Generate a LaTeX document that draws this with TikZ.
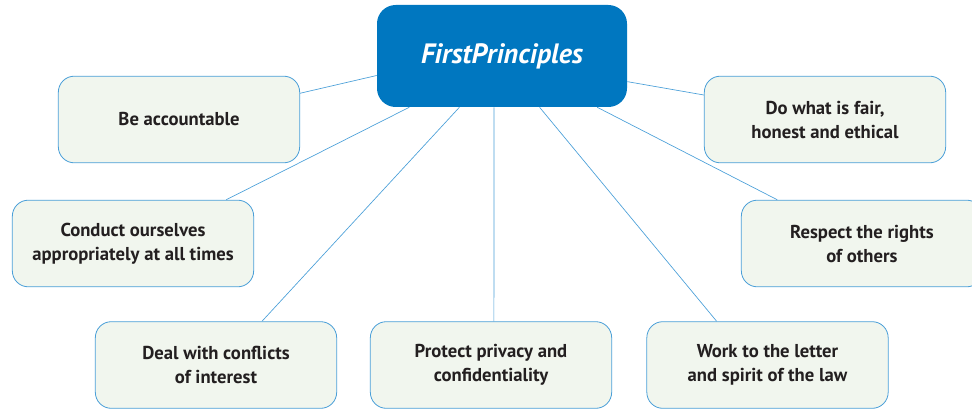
\documentclass[tikz,border=0pt]{standalone}
\usepackage{fontspec}
\setmainfont{PT Sans}
\usetikzlibrary{calc}
\definecolor{hubblue}{HTML}{0077C0}
\definecolor{edgeblue}{HTML}{4A9FD8}
\definecolor{boxfill}{HTML}{F1F6EE}
\definecolor{txt}{HTML}{231F20}
\begin{document}
\begin{tikzpicture}[x=0.75pt,y=-0.75pt,
  leaf/.style={draw=edgeblue, line width=0.6pt, fill=boxfill, rounded corners=12pt,
    minimum width=181pt, minimum height=65pt, align=center, text=txt,
    font=\fontsize{14}{18}\selectfont\bfseries, inner sep=0pt},
  hub/.style={fill=hubblue, rounded corners=14pt, minimum width=187.5pt, minimum height=76.5pt,
    text=white, font=\fontsize{21}{24}\selectfont\bfseries\itshape, inner sep=0pt},
  link/.style={draw=edgeblue, line width=0.5pt}]
\useasboundingbox (0,0) rectangle (972,410);
\node[hub] (c) at (502,56) {FirstPrinciples};
\node[leaf] (acc) at (179,119.5) {Be accountable};
\node[leaf] (cond) at (133,243.5) {Conduct ourselves\\appropriately at all times};
\node[leaf] (deal) at (216,365) {Deal with conflicts\\of interest};
\node[leaf] (priv) at (491,365) {Protect privacy and\\confidentiality};
\node[leaf] (work) at (767.5,365) {Work to the letter\\and spirit of the law};
\node[leaf] (resp) at (862,243.5) {Respect the rights\\of others};
\node[leaf] (fair) at (825,119.5) {Do what is fair,\\honest and ethical};
\draw[link] ($(acc.north east)!0.2!(acc.south east)$) -- ($(c.north west)!0.69!(c.south west)$);
\draw[link] ($(cond.north west)!0.885!(cond.north east)$) -- ($(c.south west)!0.13!(c.south east)$);
\draw[link] ($(deal.north west)!0.69!(deal.north east)$) -- ($(c.south west)!0.33!(c.south east)$);
\draw[link] ($(priv.north west)!0.512!(priv.north east)$) -- ($(c.south west)!0.468!(c.south east)$);
\draw[link] ($(work.north west)!0.29!(work.north east)$) -- ($(c.south west)!0.65!(c.south east)$);
\draw[link] ($(resp.north west)!0.15!(resp.north east)$) -- ($(c.south west)!0.88!(c.south east)$);
\draw[link] ($(fair.north west)!0.22!(fair.south west)$) -- ($(c.north east)!0.75!(c.south east)$);
\end{tikzpicture}
\end{document}
